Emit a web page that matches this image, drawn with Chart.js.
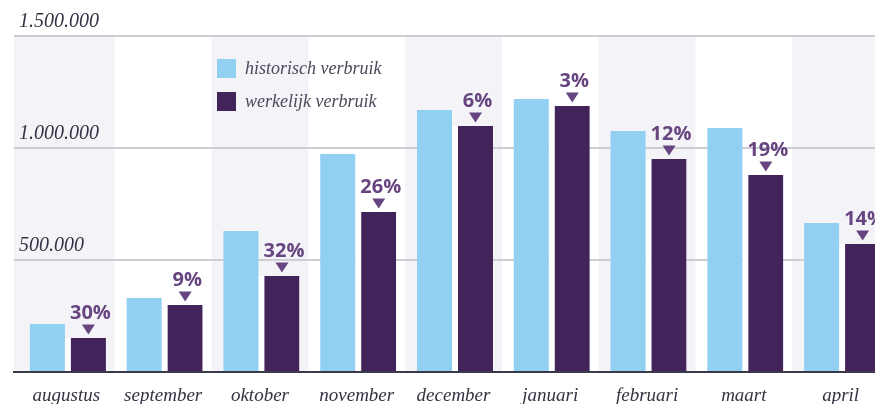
<!DOCTYPE html>
<html>
<head>
<meta charset="utf-8">
<script src="https://cdn.jsdelivr.net/npm/chart.js@4/dist/chart.umd.min.js"></script>
<style>
  html, body { margin: 0; padding: 0; background: #ffffff; overflow: hidden; }
  #wrap { width: 875px; height: 404px; overflow: hidden; position: relative; }
  canvas { display: block; }
</style>
</head>
<body>
<div id="wrap"><canvas id="c" width="889" height="404"></canvas></div>
<script>
// ---- data ----
const months = ['augustus', 'september', 'oktober', 'november', 'december', 'januari', 'februari', 'maart', 'april'];
const historisch = [214000, 330000, 629000, 973000, 1170000, 1219000, 1076000, 1089000, 665000];
const werkelijk = [152000, 299000, 429000, 714000, 1098000, 1187000, 951000, 879000, 571000];
const besparing = ['30%', '9%', '32%', '26%', '6%', '3%', '12%', '19%', '14%'];
const yTickValues = [0, 500000, 1000000, 1500000];
const seriesNames = ['historisch verbruik', 'werkelijk verbruik'];

const LIGHT = '#92d0f2';
const DARK = '#42235a';
const ACCENT = '#674580';

function fmt(v) {
  return String(v).replace(/\B(?=(\d{3})+(?!\d))/g, '.');
}

const decorPlugin = {
  id: 'decor',
  beforeDraw(chart) {
    const ctx = chart.ctx;
    const area = chart.chartArea;
    const x = chart.scales.x;
    const y = chart.scales.y;
    const W = chart.width;
    ctx.save();
    // alternating bands
    const n = months.length;
    for (let i = 0; i < n; i += 2) {
      const c = x.getPixelForValue(i);
      const half = (area.right - area.left) / n / 2;
      let l = c - half, r = c + half;
      if (i === 0) l = 14;
      ctx.fillStyle = '#f3f3f8';
      ctx.fillRect(l, area.top, r - l, area.bottom - area.top);
    }
    // gridlines
    yTickValues.forEach(v => {
      if (v === 0) return;
      const py = Math.round(y.getPixelForValue(v));
      ctx.strokeStyle = '#cdcdd3';
      ctx.lineWidth = 2;
      ctx.beginPath();
      ctx.moveTo(14, py);
      ctx.lineTo(W, py);
      ctx.stroke();
    });
    ctx.restore();
  },
  afterDatasetsDraw(chart) {
    const ctx = chart.ctx;
    const y = chart.scales.y;
    const W = chart.width;
    ctx.save();
    // baseline
    const py0 = Math.round(y.getPixelForValue(0));
    ctx.strokeStyle = '#3a3a4a';
    ctx.lineWidth = 2;
    ctx.beginPath();
    ctx.moveTo(13, py0);
    ctx.lineTo(W, py0);
    ctx.stroke();

    // percentage labels + triangles above werkelijk bars
    const meta = chart.getDatasetMeta(1);
    meta.data.forEach((bar, i) => {
      const cx = bar.x + 3; // centre of the coloured part (white left border 6px)
      const top = bar.y;
      ctx.fillStyle = ACCENT;
      ctx.beginPath();
      ctx.moveTo(cx - 6.5, top - 13.5);
      ctx.lineTo(cx + 6.5, top - 13.5);
      ctx.lineTo(cx, top - 3.5);
      ctx.closePath();
      ctx.fill();
      ctx.font = 'bold 20px "Open Sans", sans-serif';
      ctx.textAlign = 'center';
      ctx.textBaseline = 'alphabetic';
      ctx.fillText(besparing[i], cx + 2, top - 19);
    });

    // legend
    const colors = [LIGHT, DARK];
    const ys = [59, 92];
    seriesNames.forEach((name, k) => {
      ctx.fillStyle = colors[k];
      ctx.fillRect(217, ys[k], 19, 19);
      ctx.fillStyle = '#4a4a5a';
      ctx.font = 'italic 18px "Liberation Serif", serif';
      ctx.textAlign = 'left';
      ctx.textBaseline = 'middle';
      ctx.fillText(name, 245, ys[k] + 10);
    });
    ctx.restore();
  }
};

new Chart(document.getElementById('c'), {
  type: 'bar',
  data: {
    labels: months,
    datasets: [
      {
        label: seriesNames[0],
        data: historisch,
        backgroundColor: LIGHT,
        borderWidth: 0,
        categoryPercentage: 0.7855,
        barPercentage: 35 / 38
      },
      {
        label: seriesNames[1],
        data: werkelijk,
        backgroundColor: DARK,
        borderColor: '#ffffff',
        borderWidth: { left: 6, right: 0, top: 0, bottom: 0 },
        borderSkipped: false,
        categoryPercentage: 0.7855,
        barPercentage: 41 / 38
      }
    ]
  },
  options: {
    responsive: false,
    animation: false,
    devicePixelRatio: 1,
    layout: { padding: { left: 18, top: 36, right: 0, bottom: 0 } },
    plugins: {
      legend: { display: false },
      tooltip: { enabled: false }
    },
    scales: {
      x: {
        offset: true,
        grid: { display: false, drawTicks: false },
        border: { display: false },
        ticks: {
          color: '#333344',
          font: { family: '"Liberation Serif", serif', style: 'italic', size: 19 },
          padding: 13,
          maxRotation: 0,
          autoSkip: false
        },
        afterFit(scale) { scale.height = 32; }
      },
      y: {
        min: 0,
        max: 1500000,
        afterBuildTicks(scale) { scale.ticks = yTickValues.map(v => ({ value: v })); },
        grid: { display: false, drawTicks: false },
        border: { display: false },
        ticks: {
          mirror: true,
          padding: 1,
          labelOffset: -14,
          autoSkip: false,
          color: '#333344',
          font: { family: '"Liberation Serif", serif', style: 'italic', size: 20 },
          callback: (v) => v === 0 ? '' : fmt(v)
        },
        afterFit(scale) { scale.width = 0; }
      }
    }
  },
  plugins: [decorPlugin]
});
</script>
</body>
</html>
